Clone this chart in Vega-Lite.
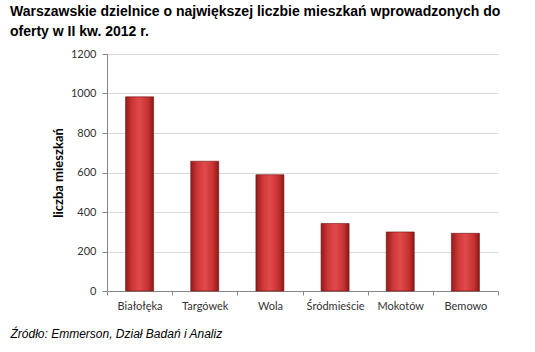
{
  "$schema": "https://vega.github.io/schema/vega-lite/v6.json",
  "autosize": {"type": "none"},
  "width": 391,
  "height": 237,
  "padding": {"left": 107, "top": 54, "right": 37, "bottom": 61},
  "background": "white",
  "title": {
    "text": ["Warszawskie dzielnice o największej liczbie mieszkań wprowadzonych do", "oferty w II kw. 2012 r."],
    "anchor": "start",
    "frame": "group",
    "font": "Liberation Sans",
    "fontSize": 14,
    "fontWeight": "bold",
    "color": "#000000",
    "lineHeight": 20,
    "dx": -97,
    "offset": 9
  },
  "data": {
    "values": [
      {"dzielnica": "Białołęka", "liczba": 983},
      {"dzielnica": "Targówek", "liczba": 657},
      {"dzielnica": "Wola", "liczba": 589},
      {"dzielnica": "Śródmieście", "liczba": 342},
      {"dzielnica": "Mokotów", "liczba": 299},
      {"dzielnica": "Bemowo", "liczba": 292}
    ]
  },
  "mark": {
    "type": "bar",
    "width": {"band": 0.43},
    "color": {
      "gradient": "linear",
      "x1": 0, "x2": 1, "y1": 0, "y2": 0,
      "stops": [
        {"offset": 0, "color": "#941b1b"},
        {"offset": 0.25, "color": "#d03838"},
        {"offset": 0.5, "color": "#e04a4a"},
        {"offset": 0.8, "color": "#c83232"},
        {"offset": 1, "color": "#8a1818"}
      ]
    },
    "stroke": "#6e1212",
    "strokeWidth": 0.6
  },
  "encoding": {
    "x": {
      "field": "dzielnica",
      "type": "nominal",
      "sort": null,
      "scale": {"paddingInner": 0, "paddingOuter": 0},
      "axis": {
        "title": "Źródło: Emmerson, Dział Badań i Analiz",
        "titleFont": "Liberation Sans",
        "titleFontStyle": "italic",
        "titleFontWeight": "normal",
        "titleFontSize": 12,
        "titleColor": "#000000",
        "titleAnchor": "start",
        "titleAlign": "left",
        "titleBaseline": "alphabetic",
        "titleX": -97,
        "titleY": 46,
        "labelAngle": 0,
        "labelFont": "Lato",
        "labelFontSize": 11,
        "labelColor": "#333333",
        "labelPadding": 5,
        "tickBand": "extent",
        "tickSize": 4,
        "tickColor": "#868686",
        "domainColor": "#868686",
        "grid": false
      }
    },
    "y": {
      "field": "liczba",
      "type": "quantitative",
      "scale": {"domain": [0, 1200]},
      "axis": {
        "title": "liczba mieszkań",
        "titleFont": "Lato",
        "titleFontSize": 13,
        "titleFontWeight": "bold",
        "titleColor": "#000000",
        "titlePadding": 5,
        "values": [0, 200, 400, 600, 800, 1000, 1200],
        "format": "d",
        "labelFont": "Lato",
        "labelFontSize": 11,
        "labelColor": "#333333",
        "labelPadding": 6,
        "tickSize": 5,
        "tickColor": "#868686",
        "domainColor": "#868686",
        "gridColor": "#d9d9d9"
      }
    }
  },
  "config": {"view": {"stroke": null}}
}
